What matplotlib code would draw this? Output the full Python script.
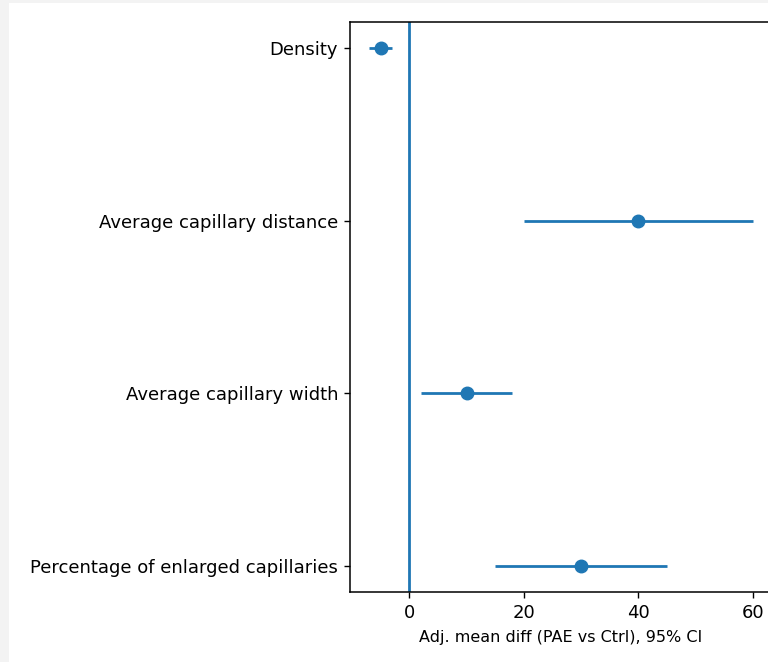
import matplotlib
matplotlib.use("Agg")
import matplotlib.pyplot as plt
from matplotlib.patches import Rectangle

categories = ["Density", "Average capillary distance", "Average capillary width",
              "Percentage of enlarged capillaries"]
estimates = [-5, 40, 10, 30]
ci_low = [-7, 20, 2, 15]
ci_high = [-3, 60, 18, 45]
xticks = [0, 20, 40, 60]

W, H = 768, 662
fig = plt.figure(figsize=(W / 100, H / 100), dpi=100)
fig.patch.set_facecolor("white")
# screenshot gray border
fig.patches.append(Rectangle((0, 0), 9 / W, 1, transform=fig.transFigure,
                             facecolor="#f3f3f3", edgecolor="none", zorder=-10))
fig.patches.append(Rectangle((0, 1 - 3 / H), 1, 3 / H, transform=fig.transFigure,
                             facecolor="#f3f3f3", edgecolor="none", zorder=-10))

ax = fig.add_axes([350 / W, (H - 592) / H, (772 - 350) / W, (592 - 22) / H])
y = list(range(len(categories)))
xerr = [[e - l for e, l in zip(estimates, ci_low)],
        [h - e for e, h in zip(estimates, ci_high)]]
ax.errorbar(estimates, y, xerr=xerr, fmt="o", color="C0", ms=9, lw=2, capsize=0)
ax.axvline(0, color="C0", lw=2)
ax.set_yticks(y)
ax.set_yticklabels(categories, fontsize=13)
ax.invert_yaxis()
ax.set_xticks(xticks)
ax.tick_params(axis="x", labelsize=13)
ax.tick_params(length=4.5, width=1.0, pad=4)
for s in ax.spines.values():
    s.set_linewidth(1.1)
ax.set_xlabel("Adj. mean diff (PAE vs Ctrl), 95% CI", fontsize=11.5, labelpad=6)

fig.savefig("out.png", dpi=100)
